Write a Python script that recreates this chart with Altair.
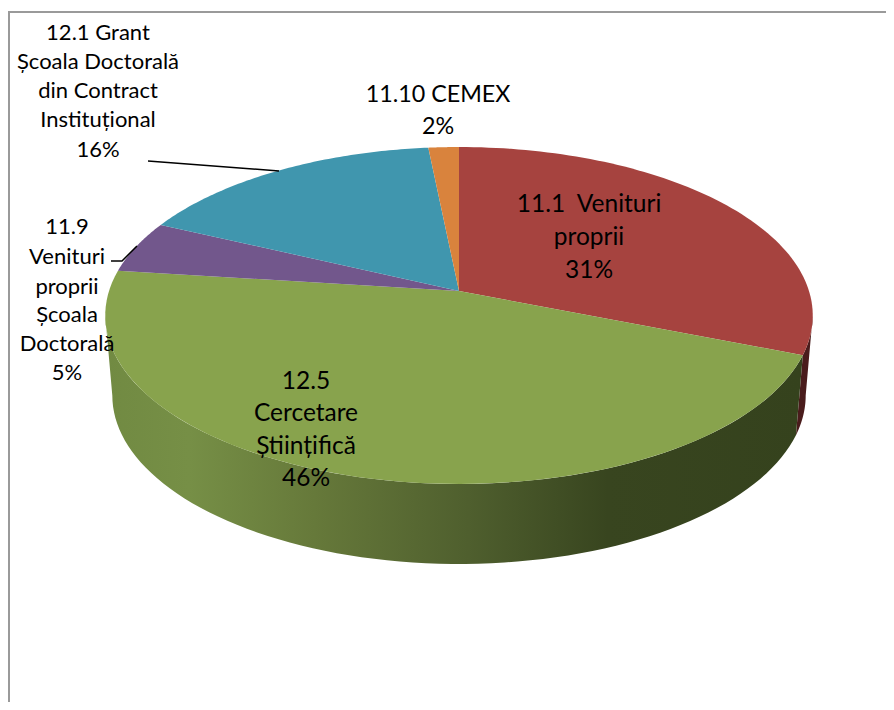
import math
import altair as alt
import pandas as pd

# Slice shares, clockwise from the top
names = ["11.1 Venituri proprii", "12.5 Cercetare Științifică", "11.9 Venituri proprii Școala Doctorală",
         "12.1 Grant Școala Doctorală din Contract Instituțional", "11.10 CEMEX"]
shares = [31.0, 46.0, 5.0, 16.4, 1.6]
colors = ["#A6433F", "#88A34D", "#72578C", "#4096AE", "#D9833D"]

label_lines = ["12.1 Grant", "Școala Doctorală", "din Contract", "Instituțional", "16%",
               "11.10 CEMEX", "2%",
               "11.1\u00a0 Venituri", "proprii", "31%",
               "11.9", "Venituri", "proprii", "Școala", "Doctorală", "5%",
               "12.5", "Cercetare", "Științifică", "46%"]
label_x = [98] * 5 + [438] * 2 + [589] * 3 + [67] * 6 + [306] * 4
label_y = [33, 62, 91, 120, 150, 94.5, 126.5, 204.5, 237.5, 270.5, 227, 257, 287, 315, 344, 373, 381.5, 413.5, 446.5, 478.5]
label_size = [22] * 5 + [23.3] * 2 + [24.5] * 3 + [22] * 6 + [24.5] * 4

leader_a_x, leader_a_y = [148, 279], [161, 171]
leader_b_x, leader_b_y = [111, 122, 137], [261, 261, 246]
frame_x, frame_y = [9, 9, 886], [702, 12, 12]

# Perspective plate of the pie
CX, CY, A, B, K = 459.0, 291.0, 164.9, 350.0, 0.1454
DEPTH, SHRINK, MID = 80.0, 0.98, 315.5


def top(theta):
    u, v = math.sin(theta), -math.cos(theta)
    d = 1 - K * v
    return CX + B * u / d, CY + A * v / d


def bottom(theta):
    x, y = top(theta)
    return CX + SHRINK * (x - CX), y + DEPTH


def sweep(a, b, n=80):
    return [a + (b - a) * i / n for i in range(n + 1)]


W, H = 878, 694
xs = alt.Scale(domain=[8, 8 + W], nice=False, zero=False)
ys = alt.Scale(domain=[8 + H, 8], nice=False, zero=False)


def poly(points, fill):
    df = pd.DataFrame([{"x": p[0], "y": p[1], "i": i} for i, p in enumerate(points)])
    return alt.Chart(df).mark_line(fill=fill, stroke="#000000", strokeOpacity=0, strokeWidth=0).encode(
        x=alt.X("x:Q", scale=xs, axis=None),
        y=alt.Y("y:Q", scale=ys, axis=None),
        order="i:Q",
    )


def path(px, py, color, width):
    df = pd.DataFrame({"x": px, "y": py, "i": range(len(px))})
    return alt.Chart(df).mark_line(color=color, strokeWidth=width).encode(
        x=alt.X("x:Q", scale=xs, axis=None),
        y=alt.Y("y:Q", scale=ys, axis=None),
        order="i:Q",
    )


total = sum(shares)
edges = [0.0]
for s in shares:
    edges.append(edges[-1] + s / total * 2 * math.pi)

right_ext = math.acos(-K)
left_ext = 2 * math.pi - right_ext

wall_gradient = alt.LinearGradient(
    gradient="linear", x1=0, x2=1, y1=0, y2=0,
    stops=[
        alt.GradientStop(color="#718A42", offset=0.0),
        alt.GradientStop(color="#768F46", offset=0.12),
        alt.GradientStop(color="#66793A", offset=0.3),
        alt.GradientStop(color="#4F5F2E", offset=0.52),
        alt.GradientStop(color="#38451F", offset=0.72),
        alt.GradientStop(color="#35421D", offset=1.0),
    ],
)

layers = [path(frame_x, frame_y, "#9A9A9A", 2)]

# Side walls
red_wall = [top(t) for t in sweep(right_ext, edges[1], 20)] + [bottom(t) for t in sweep(edges[1], right_ext, 20)]
green_wall = [top(t) for t in sweep(edges[1], left_ext)] + [bottom(t) for t in sweep(left_ext, edges[1])]
layers.append(poly(red_wall, "#4A1C1C"))
layers.append(poly(green_wall, wall_gradient))

# Top face
for k, c in enumerate(colors):
    pts = [(CX, CY)] + [top(t) for t in sweep(edges[k], edges[k + 1])]
    layers.append(poly(pts, c))

layers.append(path(leader_a_x, leader_a_y, "#000000", 1.5))
layers.append(path(leader_b_x, leader_b_y, "#000000", 1.5))

labels = pd.DataFrame({"t": label_lines, "x": label_x, "y": label_y, "s": label_size})
for size, part in labels.groupby("s"):
    layers.append(
        alt.Chart(part).mark_text(font="Lato", fontSize=size, color="#000000", align="center", baseline="middle").encode(
            x=alt.X("x:Q", scale=xs, axis=None),
            y=alt.Y("y:Q", scale=ys, axis=None),
            text="t:N",
        )
    )

chart = alt.layer(*layers).properties(
    width=W, height=H, padding=0, autosize=alt.AutoSizeParams(type="none")
).configure_view(stroke=None)

chart.save("out.html", embed_options={"renderer": "svg", "actions": False})
